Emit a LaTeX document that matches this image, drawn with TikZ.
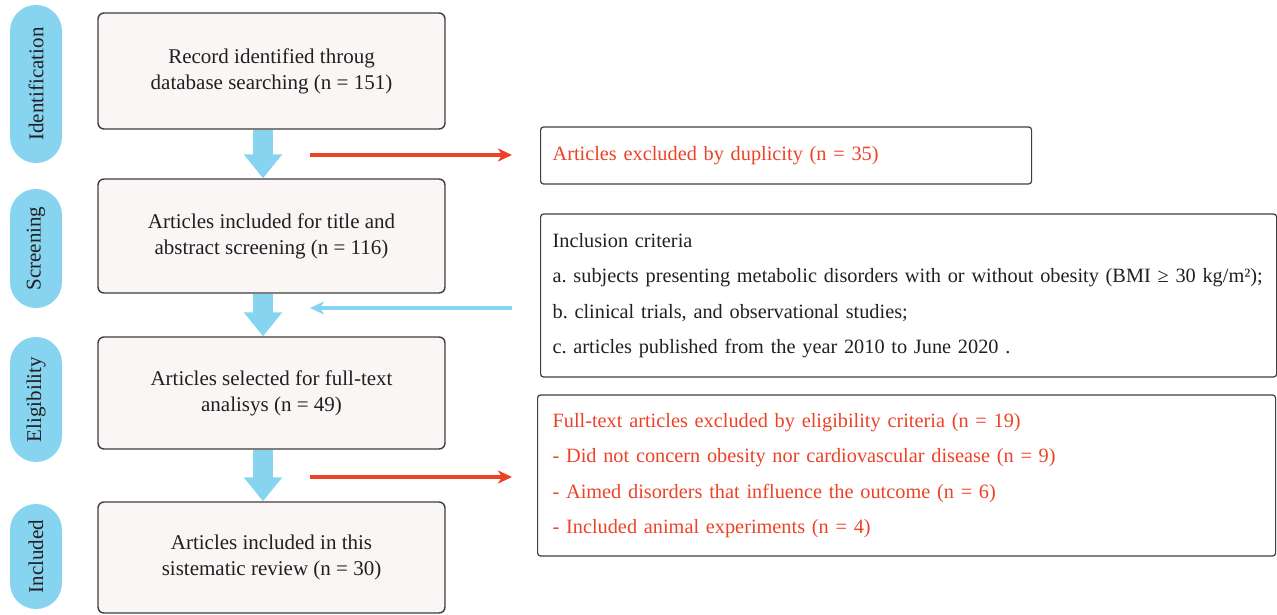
\documentclass[tikz,border=0pt]{standalone}
\usepackage{fontspec}
\setmainfont{Liberation Serif}
\usetikzlibrary{arrows.meta}

\definecolor{stageblue}{RGB}{134,212,240}
\definecolor{exclred}{RGB}{236,66,38}
\definecolor{boxfill}{RGB}{249,246,245}
\definecolor{boxline}{RGB}{62,62,62}
\definecolor{inkgray}{RGB}{35,31,32}

\begin{document}
\begin{tikzpicture}[x=1pt,y=-1pt]
				\tikzstyle{stage}=[fill=stageblue, rounded corners=26pt, rotate=90, minimum height=52pt, inner sep=0pt, text=inkgray, font=\fontsize{21}{26}\selectfont]
				\tikzstyle{flowbox}=[draw=boxline, line width=1.4pt, fill=boxfill, rounded corners=6pt, minimum width=347pt, align=center, text=inkgray, font=\fontsize{21}{26}\selectfont]
				\tikzstyle{sidebox}=[draw=boxline, line width=1.2pt, rounded corners=3pt, anchor=west, align=left, inner xsep=12pt, font=\fontsize{20.3}{35.5}\selectfont\frenchspacing]
				\tikzstyle{bigarrow}=[draw=stageblue, line width=20pt, -{Triangle[length=24pt,width=37pt]}]
				\tikzstyle{thinarrow}=[draw, line width=4pt, -{Stealth[length=14pt,width=13pt,inset=4pt]}]
				\newcommand\XStage{36}
				\newcommand\XMain{271.5}
				\newcommand\XSide{540}
				\newcommand\XFrom{310}
				\newcommand\XTo{512}
				\newcommand\ArrowShift{-8.5pt}

				\useasboundingbox (0,0) rectangle (1277,614);

				% Stages
				\node [stage, minimum width=158pt] at (\XStage,84) (ident) {Identification};
				\node [stage, minimum width=119pt] at (\XStage,248.5) (screen) {Screening};
				\node [stage, minimum width=125pt] at (\XStage,399.5) (elig) {Eligibility};
				\node [stage, minimum width=105pt] at (\XStage,556.5) (incl) {Included};

				% Main flow
				\node [flowbox, minimum height=116pt] at (\XMain,71) (records) {Record identified throug\\database searching (n = 151)};
				\node [flowbox, minimum height=114pt] at (\XMain,236) (titleabs) {Articles included for title and\\abstract screening (n = 116)};
				\node [flowbox, minimum height=112pt] at (\XMain,393) (fulltext) {Articles selected for full-text\\analisys (n = 49)};
				\node [flowbox, minimum height=111pt] at (\XMain,557.5) (review) {Articles included in this\\sistematic review (n = 30)};

				% Side boxes
				\node [sidebox, text=exclred, minimum width=491pt, minimum height=57pt, text width=467pt] at (\XSide,155.5) (dup) {Articles excluded by duplicity (n = 35)};
				\node [sidebox, text=inkgray, minimum width=736pt, minimum height=163pt, text width=712pt] at (\XSide,295.5) (criteria) {Inclusion criteria\\\mbox{a. subjects presenting metabolic disorders with or without obesity (BMI ≥ 30 kg/m²);}\\b. clinical trials, and observational studies;\\c. articles published from the year 2010 to June 2020 .};
				\node [sidebox, text=exclred, inner xsep=15pt, minimum width=738pt, minimum height=161pt, text width=708pt] at (537,475.5) (elig-out) {Full-text articles excluded by eligibility criteria (n = 19)\\- Did not concern obesity nor cardiovascular disease (n = 9)\\- Aimed disorders that influence the outcome (n = 6)\\- Included animal experiments (n = 4)};

				% Free ends of the side arrows
				\coordinate (dup-from) at (\XFrom,155);
				\coordinate (dup-to) at (\XTo,155);
				\coordinate (crit-from) at (\XTo,308);
				\coordinate (crit-to) at (\XFrom,308);
				\coordinate (elig-from) at (\XFrom,477);
				\coordinate (elig-to) at (\XTo,477);

				% Path Arrows
				\path [bigarrow] ([xshift=\ArrowShift]records.south) -- ([xshift=\ArrowShift]titleabs.north);
				\path [bigarrow] ([xshift=\ArrowShift]titleabs.south) -- ([xshift=\ArrowShift]fulltext.north);
				\path [bigarrow] ([xshift=\ArrowShift]fulltext.south) -- ([xshift=\ArrowShift]review.north);

				\path [thinarrow, exclred] (dup-from) -- (dup-to);
				\path [thinarrow, stageblue] (crit-from) -- (crit-to);
				\path [thinarrow, exclred] (elig-from) -- (elig-to);

			\end{tikzpicture}
\end{document}
